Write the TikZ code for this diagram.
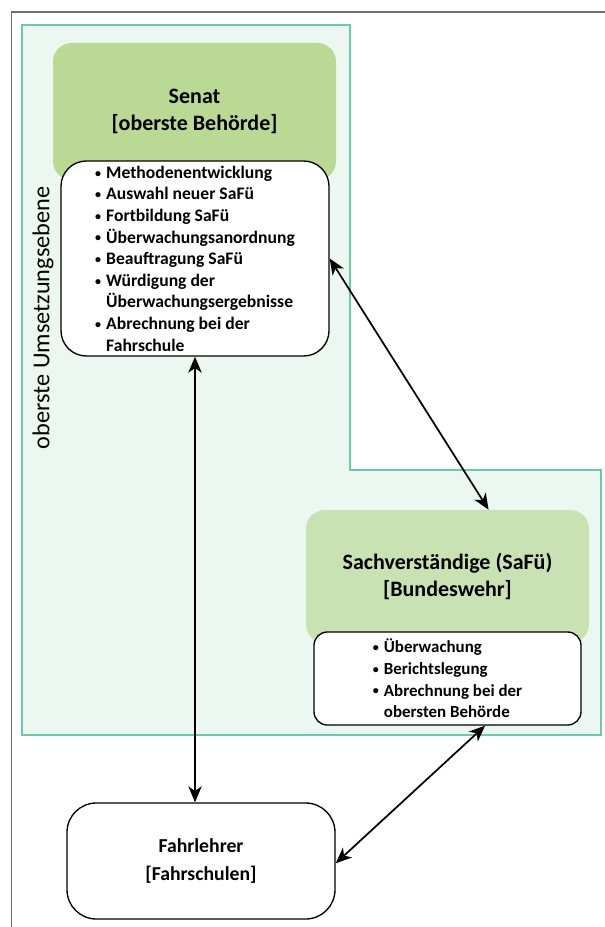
\documentclass[tikz,border=0pt]{standalone}
\usepackage{fontspec}
\setmainfont{Carlito}
\usetikzlibrary{arrows.meta,calc}

\definecolor{zonefill}{HTML}{EDF7F2}
\definecolor{zoneline}{HTML}{6CC8AC}
\definecolor{senatgreen}{HTML}{BAD994}
\definecolor{safugreen}{HTML}{C9E2B3}
\definecolor{framegray}{HTML}{6E6E6E}

\tikzset{
  greenbox/.style={rounded corners=14pt, inner sep=0pt, align=center,
    font=\fontsize{16.5}{20}\selectfont\bfseries},
  listbox/.style={draw=black, line width=1pt, fill=white, inner sep=0pt,
    align=left, font=\fontsize{13.2}{16.2}\selectfont\bfseries},
  tip/.style={Stealth[length=12pt,width=10pt,inset=3.5pt]},
  link/.style={line width=1.3pt, {Stealth[length=12pt,width=10pt,inset=3.5pt]}-{Stealth[length=12pt,width=10pt,inset=3.5pt]}},
}
% small list bullet and the matching indent for continued lines
\newcommand\bul{\makebox[8.3pt][l]{\raisebox{0.9pt}{\fontsize{9}{9}\selectfont\textbullet}}}
\newcommand\cont{\hspace*{8.3pt}}

\begin{document}
\begin{tikzpicture}[x=0.75pt,y=-0.75pt]
\useasboundingbox (0,0) rectangle (605,927);

% page frame (open to the right and bottom)
\draw[framegray, line width=1.1pt] (11.5,940) -- (11.5,12) -- (620,12);

% L-shaped zone of the top implementation level
\draw[zoneline, fill=zonefill, line width=1.5pt]
  (22,25) -- (350,25) -- (350,470) -- (601,470) -- (601,735) -- (22,735) -- cycle;
\node[rotate=90, font=\fontsize{18.2}{20}\selectfont] (zone) at (43,318) {oberste Umsetzungsebene};

% Senat
\node[greenbox, fill=senatgreen, minimum width=212.25pt, minimum height=102.75pt]
  (senat) at (194.5,111.5) {Senat\\{[}oberste Behörde{]}};
\node[listbox, rounded corners=19pt, minimum width=201pt, minimum height=146.25pt]
  (senlist) at (195,258.5) {%
  \bul Methodenentwicklung\\
  \bul Auswahl neuer SaFü\\
  \bul Fortbildung SaFü\\
  \bul Überwachungsanordnung\\
  \bul Beauftragung SaFü\\
  \bul Würdigung der\\
  \cont Überwachungsergebnisse\\
  \bul Abrechnung bei der\\
  \cont Fahrschule};

% Sachverstaendige
\node[greenbox, fill=safugreen, minimum width=212.25pt, minimum height=99.75pt]
  (safu) at (447.5,576.5) {Sachverständige (SaFü)\\{[}Bundeswehr{]}};
\node[listbox, rounded corners=10pt, minimum width=200.25pt, minimum height=69.75pt,
  font=\fontsize{12.7}{16.2}\selectfont\bfseries]
  (safulist) at (447.5,678.5) {%
  \bul Überwachung\\
  \bul Berichtslegung\\
  \bul Abrechnung bei der\\
  \cont obersten Behörde};

% Fahrlehrer
\node[draw=black, line width=1pt, fill=white, rounded corners=22pt, align=center,
  minimum width=201pt, minimum height=87pt, inner sep=0pt,
  font=\fontsize{14.8}{21.5}\selectfont\bfseries]
  (fahr) at (201,861) {Fahrlehrer\\{[}Fahrschulen{]}};

% connectors
\draw[link] (senlist.south) -- (senlist.south |- fahr.north);
\draw[link] (senlist.east) -- ($(safu.north west)!0.645!(safu.north east)$);
\draw[link] ($(safulist.south west)!0.64!(safulist.south east)$)
  -- ($(fahr.north east)!0.52!(fahr.south east)$);
\end{tikzpicture}
\end{document}
